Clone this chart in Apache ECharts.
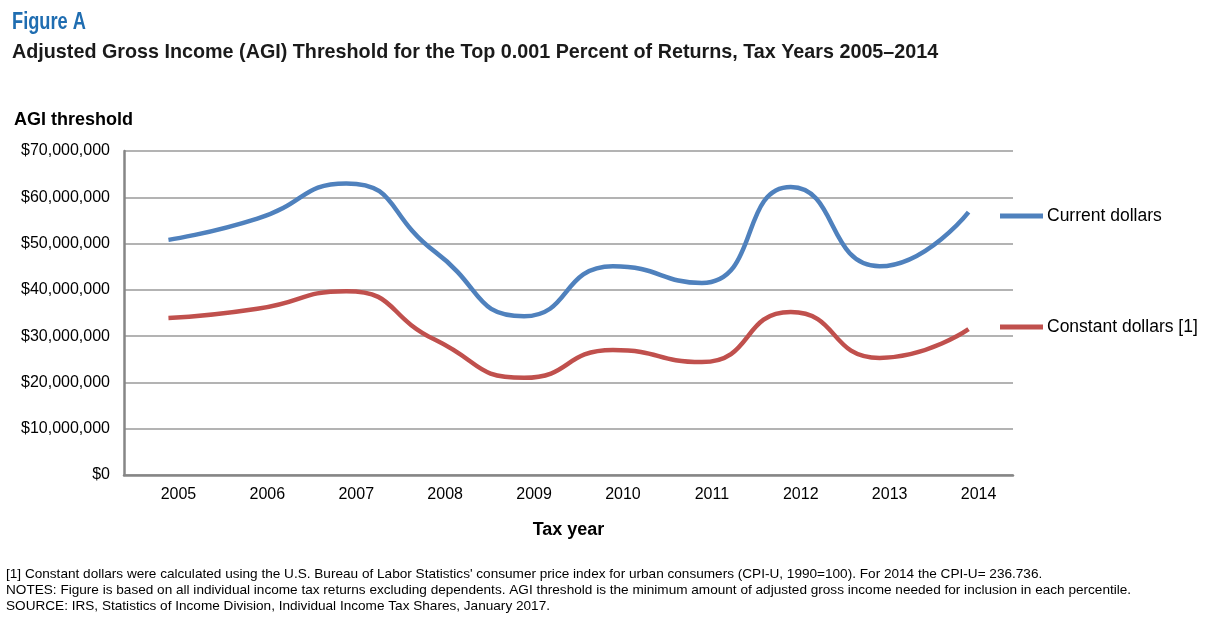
<!DOCTYPE html>
<html>
<head>
<meta charset="utf-8">
<script src="https://cdn.jsdelivr.net/npm/echarts@6/dist/echarts.min.js"></script>
<style>
html,body{margin:0;padding:0;background:#fff;}
#chart{width:1217px;height:623px;}
</style>
</head>
<body>
<div id="chart"></div>
<script>
const years = ['2005','2006','2007','2008','2009','2010','2011','2012','2013','2014'];
const currentDollars = [50.8, 55.4, 63.0, 48.2, 34.3, 45.1, 41.5, 62.2, 45.1, 56.8].map(v => v * 1e6);
const constantDollars = [33.9, 35.9, 39.7, 29.2, 21.0, 27.0, 24.4, 35.2, 25.3, 31.5].map(v => v * 1e6);
const yTicks = [0, 10e6, 20e6, 30e6, 40e6, 50e6, 60e6, 70e6];
const seriesNames = ['Current dollars', 'Constant dollars [1]'];
const footnotes = [
  "[1] Constant dollars were calculated using the U.S. Bureau of Labor Statistics' consumer price index for urban consumers (CPI-U, 1990=100). For 2014 the CPI-U= 236.736.",
  "NOTES: Figure is based on all individual income tax returns excluding dependents. AGI threshold is the minimum amount of adjusted gross income needed for inclusion in each percentile.",
  "SOURCE: IRS, Statistics of Income Division, Individual Income Tax Shares, January 2017."
];

const chart = echarts.init(document.getElementById('chart'));
const sans = '"Liberation Sans", Arial, sans-serif';
const fmt = v => '$' + v.toLocaleString('en-US');

chart.setOption({
  animation: false,
  backgroundColor: '#fff',
  title: [
    { text: 'AGI threshold', left: 9, top: 106, textStyle: { fontFamily: sans, fontWeight: 'bold', fontSize: 18, color: '#000' } }
  ],
  graphic: [
    { type: 'text', x: 12, y: 10, scaleX: 0.76,
      style: { text: 'Figure A', fontFamily: sans, fontWeight: 'bold', fontSize: 24, fill: '#1F6DB1' } },
    { type: 'text', x: 12, y: 42, scaleX: 0.94,
      style: { text: 'Adjusted Gross Income (AGI) Threshold for the Top 0.001 Percent of Returns, Tax Years 2005\u20132014', fontFamily: sans, fontWeight: 'bold', fontSize: 21, fill: '#1a1a1a' } }
  ].concat(footnotes.map((t, i) => ({
    type: 'text', x: 6, y: 567 + i * 16,
    style: { text: t, fontFamily: sans, fontSize: 13.6, fill: '#000' }
  }))),
  legend: [
    { data: [seriesNames[0]], left: 995, top: 202, icon: 'rect', itemWidth: 43, itemHeight: 5, itemGap: 0,
      textStyle: { fontFamily: sans, fontSize: 17.5, color: '#000', padding: [0, 0, 0, -1] } },
    { data: [seriesNames[1]], left: 995, top: 313, icon: 'rect', itemWidth: 43, itemHeight: 5, itemGap: 0,
      textStyle: { fontFamily: sans, fontSize: 17.5, color: '#000', padding: [0, 0, 0, -1] } }
  ],
  grid: { left: 124, right: 204, top: 151, bottom: 148, containLabel: false },
  xAxis: {
    type: 'category', data: years, boundaryGap: true,
    name: 'Tax year', nameLocation: 'middle', nameGap: 46,
    nameTextStyle: { fontFamily: sans, fontWeight: 'bold', fontSize: 18, color: '#000' },
    axisLine: { lineStyle: { color: '#868686', width: 2.5 } },
    axisTick: { show: false },
    axisLabel: { fontFamily: sans, fontSize: 16, color: '#000', margin: 12, padding: [0, 0, 0, 20] }
  },
  yAxis: {
    type: 'value', min: yTicks[0], max: yTicks[yTicks.length - 1], interval: 10e6,
    axisLine: { show: true, lineStyle: { color: '#868686', width: 2.5 } },
    axisTick: { show: false },
    splitLine: { lineStyle: { color: '#9a9a9a', width: 1.5 } },
    axisLabel: { fontFamily: sans, fontSize: 16, color: '#000', margin: 14, formatter: fmt }
  },
  series: [
    { name: seriesNames[0], type: 'line', data: currentDollars, smooth: 0.55, symbol: 'none',
      lineStyle: { color: '#4F81BD', width: 4.5 }, itemStyle: { color: '#4F81BD' } },
    { name: seriesNames[1], type: 'line', data: constantDollars, smooth: 0.55, symbol: 'none',
      lineStyle: { color: '#C0504D', width: 4.5 }, itemStyle: { color: '#C0504D' } }
  ]
});
</script>
</body>
</html>
